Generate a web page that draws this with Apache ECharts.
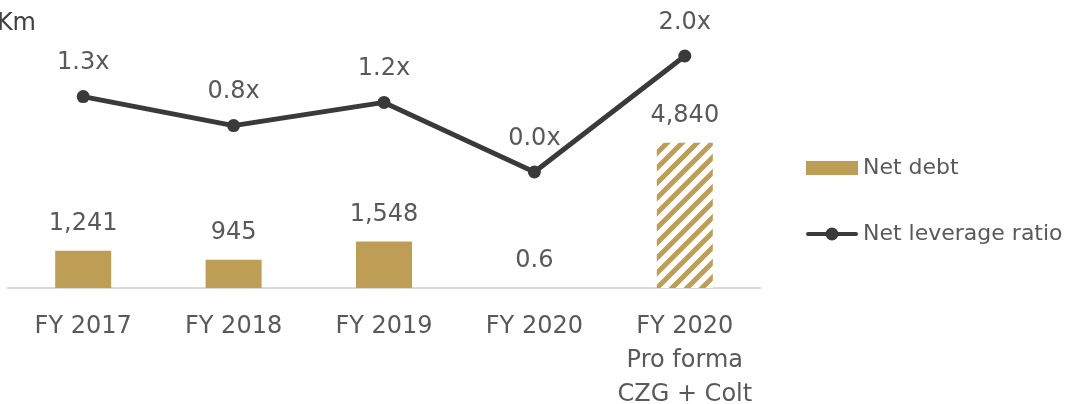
<!DOCTYPE html>
<html>
<head>
<meta charset="utf-8">
<script src="https://cdn.jsdelivr.net/npm/echarts@6/dist/echarts.min.js"></script>
<style>
  html, body { margin: 0; padding: 0; background: #fff; }
  #chart { width: 1081px; height: 404px; }
</style>
</head>
<body>
<div id="chart"></div>
<script>
// data
const categories = ['FY 2017', 'FY 2018', 'FY 2019', 'FY 2020', 'FY 2020\nPro forma\nCZG + Colt'];
const netDebt = [1241, 945, 1548, 0.6, 4840];
const leverage = [1.3, 0.8, 1.2, 0.0, 2.0];

const gold = '#BE9E54';
const dark = '#3a3a3a';
const textColor = '#595959';
const font = 'DejaVu Sans';

// hatch pattern for pro forma bar
function makeHatch() {
  let s = 15;
  let c = document.createElement('canvas');
  c.width = s; c.height = s;
  let ctx = c.getContext('2d');
  ctx.fillStyle = '#fff';
  ctx.fillRect(0, 0, s, s);
  ctx.strokeStyle = gold;
  ctx.lineWidth = 5;
  ctx.beginPath();
  ctx.moveTo(-s, s); ctx.lineTo(s, -s);
  ctx.moveTo(0, s * 2); ctx.lineTo(s * 2, 0);
  ctx.moveTo(0, s); ctx.lineTo(s, 0);
  ctx.stroke();
  return { image: c, repeat: 'repeat' };
}

const barData = netDebt.map((v, i) => {
  if (i === netDebt.length - 1) {
    return { value: v, itemStyle: { color: makeHatch() } };
  }
  return v;
});

let chart = echarts.init(document.getElementById('chart'));
let option = {
  animation: false,
  textStyle: { fontFamily: font },
  grid: { left: 8, right: 321, top: 27, bottom: 116, outerBoundsMode: 'none', containLabel: false },
  graphic: [{
    type: 'text',
    right: 1081 - 36,
    top: 12,
    style: { text: 'CZKm', fontSize: 24, fontFamily: font, fill: '#404040', textAlign: 'right' }
  }],
  legend: {
    orient: 'vertical',
    left: 801,
    top: 152,
    itemGap: 44,
    itemWidth: 52,
    itemHeight: 14,
    textStyle: { fontSize: 22, color: textColor, fontFamily: font },
    data: [
      { name: 'Net debt', icon: 'rect' },
      {
        name: 'Net leverage ratio',
        icon: 'path://M2,5 L50,5 A2,2 0 0 1 50,9 L2,9 A2,2 0 0 1 2,5 Z M26,0.5 A6.5,6.5 0 1 1 26,13.5 A6.5,6.5 0 1 1 26,0.5 Z',
        itemStyle: { color: dark }
      }
    ]
  },
  xAxis: {
    type: 'category',
    data: categories,
    axisLine: { lineStyle: { color: '#d9d9d9', width: 2 } },
    axisTick: { show: false },
    axisLabel: { fontSize: 24, color: textColor, lineHeight: 34, margin: 22, interval: 0 }
  },
  yAxis: [
    { type: 'value', min: 0, max: 8700, show: false, splitLine: { show: false } },
    { type: 'value', min: -2, max: 2.5, show: false, splitLine: { show: false } }
  ],
  series: [{
    name: 'Net debt',
    type: 'bar',
    yAxisIndex: 0,
    barWidth: 56,
    itemStyle: { color: gold },
    label: {
      show: true,
      position: 'top',
      distance: 15,
      fontSize: 24,
      color: textColor,
      formatter: p => p.value >= 1000 ? p.value.toLocaleString('en-US') : String(p.value)
    },
    data: barData
  }, {
    name: 'Net leverage ratio',
    type: 'line',
    yAxisIndex: 1,
    symbol: 'circle',
    symbolSize: 13,
    lineStyle: { color: dark, width: 5 },
    itemStyle: { color: dark },
    label: {
      show: true,
      position: 'top',
      distance: 15,
      fontSize: 24,
      color: textColor,
      formatter: p => p.value.toFixed(1) + 'x'
    },
    data: leverage
  }]
};
chart.setOption(option);
</script>
</body>
</html>
